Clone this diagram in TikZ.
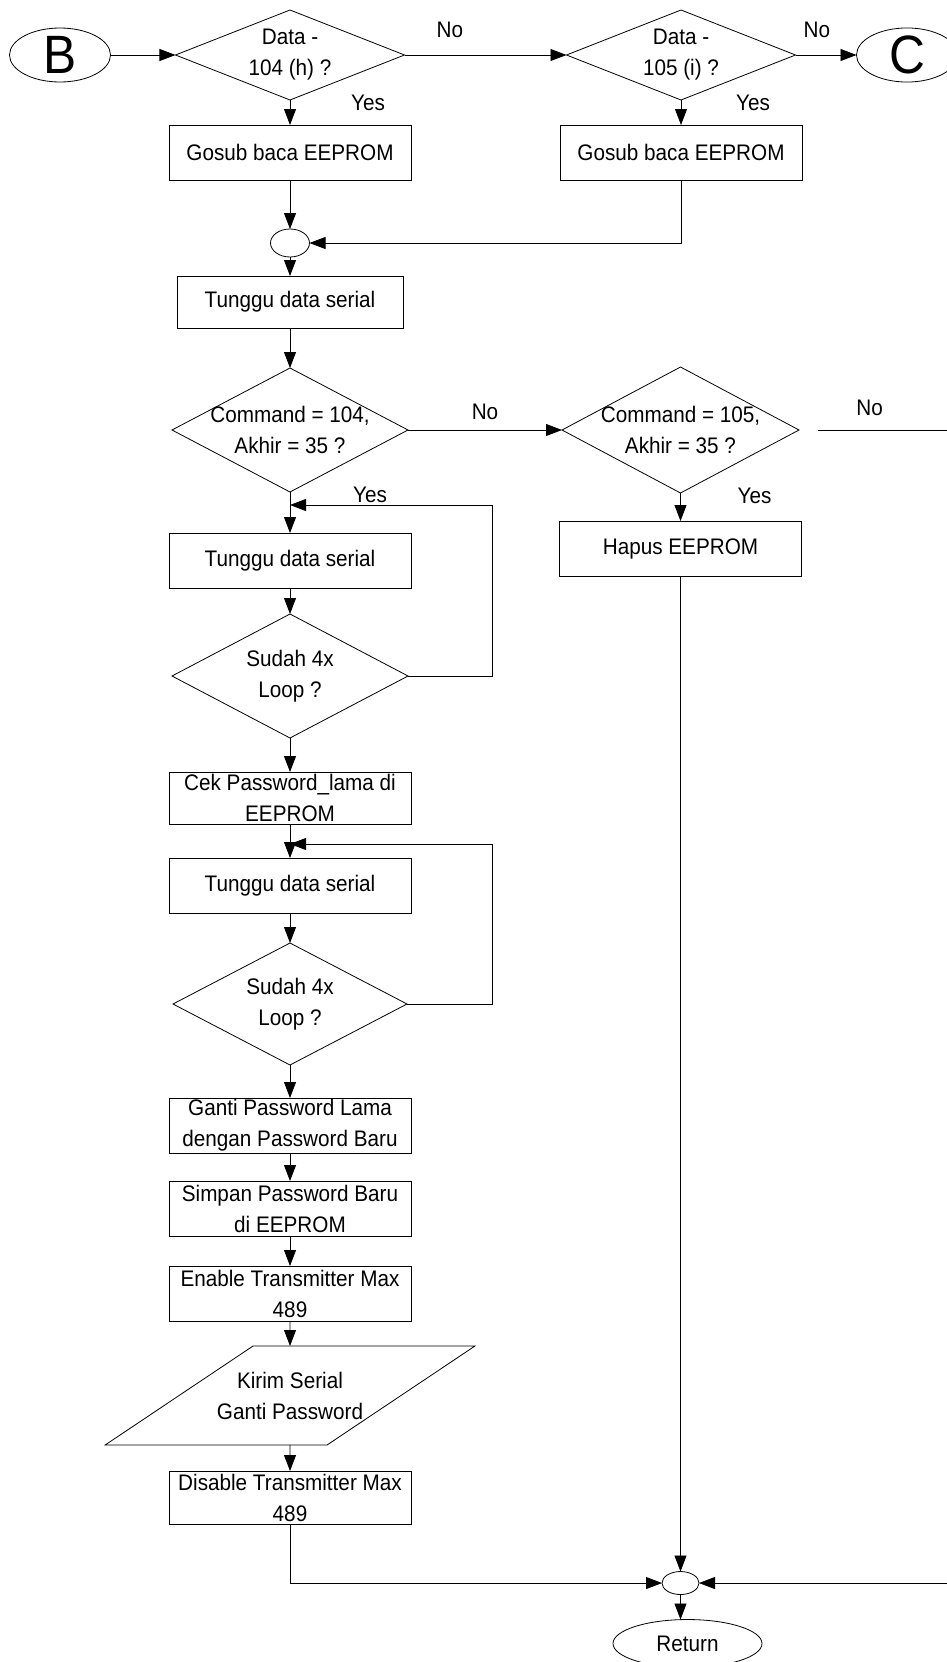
\documentclass[tikz,border=0pt]{standalone}
\usepackage{fontspec}
\setmainfont{Liberation Sans}[FakeStretch=0.92]
\usetikzlibrary{shapes.geometric, arrows.meta, positioning}

\begin{document}
\begin{tikzpicture}[
  x=1pt, y=1pt, line width=0.8pt,
  every node/.style={font=\fontsize{22.5}{31}\selectfont, outer sep=0pt},
  box/.style={rectangle, draw, align=center, inner sep=0pt, minimum width=242pt, minimum height=55pt},
  dec/.style={diamond, draw, inner sep=0pt, minimum width=236pt, minimum height=124pt},
  smalldec/.style={dec, minimum width=229pt, minimum height=90pt},
  io/.style={trapezium, draw, trapezium left angle=33.8, trapezium right angle=146.2, inner sep=0pt},
  term/.style={ellipse, draw, inner sep=0pt},
  joint/.style={ellipse, draw, inner sep=0pt, minimum width=39pt, minimum height=28pt},
  lbl/.style={inner sep=0pt},
  arr/.style={-{Triangle[length=16pt,width=12pt]}}
]
\useasboundingbox (0,0) rectangle (947,-1662);
\coordinate (rim) at (947,0);

% top row
\node[smalldec, label={[align=center]center:Data -\\104 (h) ?}] (d1) at (290,-55) {};
\node[term, minimum width=101pt, minimum height=54pt, font=\fontsize{54}{60}\selectfont, left=65pt of d1] (start) {B};
\node[smalldec, right=162pt of d1, label={[align=center]center:Data -\\105 (i) ?}] (d2) {};
\node[term, minimum width=101pt, minimum height=54pt, font=\fontsize{54}{60}\selectfont, right=61pt of d2] (cont) {C};
\node[box, below=25pt of d1] (baca1) {Gosub baca EEPROM};
\node[box, below=25pt of d2] (baca2) {Gosub baca EEPROM};
\node[joint, below=49pt of baca1] (m1) {};

% left column
\node[box, minimum width=226pt, minimum height=52pt, below=19pt of m1] (wait1) {Tunggu data serial};
\node[dec, below=40pt of wait1, label={[align=center]center:Command = 104,\\Akhir = 35 ?}] (cmd1) {};
\node[dec, minimum width=237pt, minimum height=126pt, right=154pt of cmd1, label={[align=center]center:Command = 105,\\Akhir = 35 ?}] (cmd2) {};
\node[box, below=28pt of cmd2] (hapus) {Hapus EEPROM};
\node[box, below=41pt of cmd1] (wait2) {Tunggu data serial};
\node[dec, below=26pt of wait2, label={[align=center]center:Sudah 4x\\Loop ?}] (loop1) {};
\node[box, minimum height=52pt, below=34pt of loop1] (cek) {Cek Password\_lama di\\EEPROM};
\node[box, below=34pt of cek] (wait3) {Tunggu data serial};
\node[dec, minimum width=234pt, minimum height=122pt, below=30pt of wait3, label={[align=center]center:Sudah 4x\\Loop ?}] (loop2) {};
\node[box, below=33pt of loop2] (ganti) {Ganti Password Lama\\dengan Password Baru};
\node[box, below=28pt of ganti] (simpan) {Simpan Password Baru\\di EEPROM};
\node[box, below=30pt of simpan] (enable) {Enable Transmitter Max\\489};
\node[io, below=25pt of enable, label={[align=center]center:Kirim Serial\\Ganti Password}] (kirim) {\makebox[74pt]{\rule{0pt}{99pt}}};
\node[box, minimum height=53pt, below=26pt of kirim] (disable) {Disable Transmitter Max\\489};

% bottom
\node[joint, minimum width=37pt, minimum height=23pt] (m2) at ([yshift=-59pt]disable.south -| hapus) {};
\node[term, minimum width=149pt, minimum height=48pt, below=25pt of m2, xshift=7pt] (ret) {Return};

\coordinate[below=13pt of cmd1.south] (j1);
\coordinate[below=20pt of cek.south] (j2);
\coordinate[right=19pt of cmd2.east] (gap);
\coordinate (outA) at (cmd2.east -| rim);
\coordinate (outB) at (m2 -| rim);

\draw[arr] (start) -- (d1);
\draw[arr] (d1) -- node[lbl, pos=0.28, above=17pt] (no1) {No} (d2);
\draw[arr] (d2) -- node[lbl, pos=0.35, above=17pt] (no2) {No} (cont);
\draw[arr] (d1) -- node[lbl, at start, xshift=78pt, yshift=-3pt] (yes1) {Yes} (baca1);
\draw[arr] (d2) -- node[lbl, at start, xshift=72pt, yshift=-3pt] (yes2) {Yes} (baca2);
\draw[arr] (baca1) -- (m1);
\draw[arr] (baca2) |- (m1);
\draw[arr] (m1) -- (wait1);
\draw[arr] (wait1) -- (cmd1);
\draw[arr] (cmd1) -- node[lbl, above=10pt] (no3) {No} (cmd2);
\draw (gap) -- node[lbl, pos=0.4, above=14pt] (no4) {No} (outA);
\draw[arr] (cmd1) -- node[lbl, at start, xshift=80pt, yshift=-3pt] (yes3) {Yes} (wait2);
\draw[arr] (cmd2) -- node[lbl, at start, xshift=74pt, yshift=-3pt] (yes4) {Yes} (hapus);
\draw[arr] (wait2) -- (loop1);
\draw[arr] (loop1.east) -- ++(84pt,0) |- (j1);
\draw[arr] (loop1) -- (cek);
\draw[arr] (cek) -- (wait3);
\draw[arr] (wait3) -- (loop2);
\draw[arr] (loop2.east) -- ++(85pt,0) |- (j2);
\draw[arr] (loop2) -- (ganti);
\draw[arr] (ganti) -- (simpan);
\draw[arr] (simpan) -- (enable);
\draw[arr] (enable) -- (kirim);
\draw[arr] (kirim) -- (disable);
\draw[arr] (disable) |- (m2);
\draw[arr] (hapus) -- (m2);
\draw[arr] (outB) -- (m2);
\draw[arr] (m2) -- (m2 |- ret.north);
\end{tikzpicture}
\end{document}
